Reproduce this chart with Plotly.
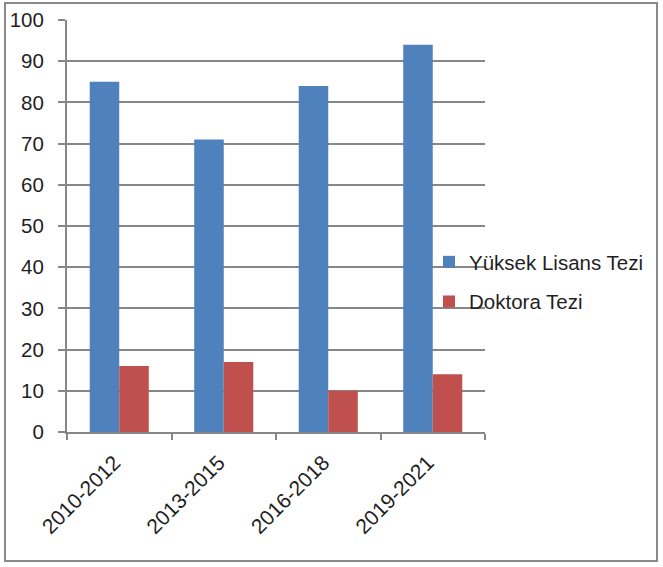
import plotly.graph_objects as go

# Thesis counts per period
periods = ["2010-2012", "2013-2015", "2016-2018", "2019-2021"]
yuksek_lisans = [85, 71, 84, 94]
doktora = [16, 17, 10, 14]
y_ticks = [0, 10, 20, 30, 40, 50, 60, 70, 80, 90, 100]

W, H = 663, 567
ML, MR, MT, MB = 67, 178, 20, 135
FONT = "Liberation Sans"
GRID = "#878787"
TEXT = "#1f1f1f"

fig = go.Figure()
fig.add_trace(go.Bar(name="Yüksek Lisans Tezi", x=periods, y=yuksek_lisans,
                     marker=dict(color="#4F81BD", line=dict(width=0)),
                     legendgroup="a"))
fig.add_trace(go.Bar(name="Doktora Tezi", x=periods, y=doktora,
                     marker=dict(color="#C0504D", line=dict(width=0)),
                     legendgroup="b"))

# outer frame around the whole chart, expressed in paper units
pw, ph = W - ML - MR, H - MT - MB
def px_x(p):
    return (p - ML) / pw
def px_y(p):
    return 1 - (p - MT) / ph

fig.add_shape(type="rect", xref="paper", yref="paper",
              x0=px_x(5), x1=px_x(657), y0=px_y(561), y1=px_y(3),
              line=dict(color="#8a8a8a", width=2), layer="below")

fig.update_layout(
    width=W, height=H,
    margin=dict(l=ML, r=MR, t=MT, b=MB, pad=0, autoexpand=False),
    paper_bgcolor="white", plot_bgcolor="white",
    barmode="group", bargap=0.435, bargroupgap=0,
    font=dict(family=FONT, size=20, color=TEXT),
    showlegend=True,
    legend=dict(x=px_x(429), y=px_y(282), xanchor="left", yanchor="middle",
                xref="paper", yref="paper",
                bgcolor="rgba(0,0,0,0)", font=dict(family=FONT, size=20.5, color=TEXT),
                traceorder="grouped", tracegroupgap=10, itemwidth=30),
    xaxis=dict(type="category", showgrid=False, showline=True, linecolor=GRID, linewidth=2,
               ticks="outside", tickson="boundaries", ticklen=6, tickcolor=GRID, tickwidth=2,
               tickangle=-45, ticklabelstandoff=8, ticklabelshift=-5,
               tickfont=dict(family=FONT, size=21, color=TEXT),
               automargin=False, fixedrange=True),
    yaxis=dict(range=[0, 100], tickvals=y_ticks, showgrid=True, gridcolor=GRID, gridwidth=2,
               showline=True, linecolor=GRID, linewidth=2, zeroline=False,
               ticks="outside", ticklen=7, tickcolor=GRID, tickwidth=2,
               ticklabelstandoff=10, automargin=False,
               tickfont=dict(family=FONT, size=20.5, color=TEXT)),
)

fig.write_html("out.html")
